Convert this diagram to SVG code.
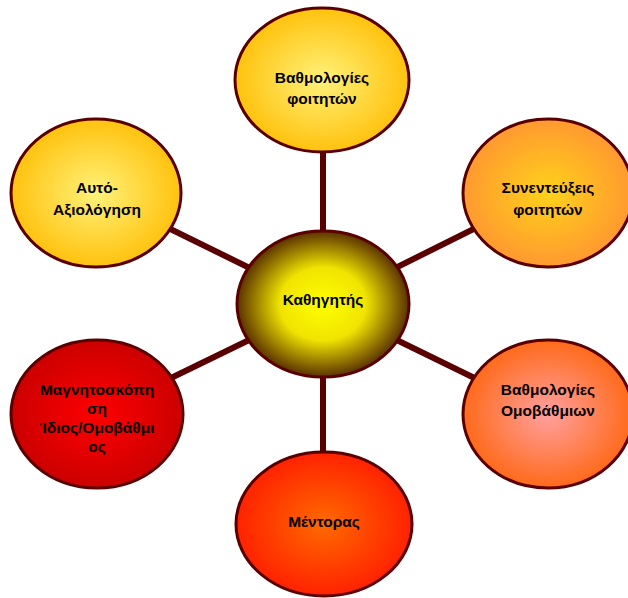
<svg xmlns="http://www.w3.org/2000/svg" width="628" height="598" viewBox="0 0 628 598">
<defs>
<radialGradient id="gYellow" cx="50%" cy="50%" r="50%"><stop offset="0" stop-color="#fff27a"/><stop offset="1" stop-color="#ffc20e"/></radialGradient>
<radialGradient id="gOrange" cx="50%" cy="50%" r="50%"><stop offset="0" stop-color="#ffd21a"/><stop offset="1" stop-color="#ff9930"/></radialGradient>
<radialGradient id="gPink" cx="50%" cy="50%" r="50%"><stop offset="0" stop-color="#ffa0a0"/><stop offset="1" stop-color="#ff6a1a"/></radialGradient>
<radialGradient id="gRedOrange" cx="50%" cy="50%" r="50%"><stop offset="0" stop-color="#ff6a00"/><stop offset="1" stop-color="#ff2200"/></radialGradient>
<radialGradient id="gRed" cx="50%" cy="50%" r="50%"><stop offset="0" stop-color="#ff0000"/><stop offset="1" stop-color="#cc0000"/></radialGradient>
<radialGradient id="gCenter" cx="50%" cy="50%" r="50%"><stop offset="0" stop-color="#ffff00"/><stop offset="0.5" stop-color="#f0e400"/><stop offset="1" stop-color="#5a3200"/></radialGradient>
</defs>
<style>
.n{stroke:#5a0000;stroke-width:3}
.t{font-family:"Liberation Sans",Arial,sans-serif;font-weight:bold;font-size:15.5px;fill:#000;text-anchor:middle}
.c{stroke:#5a0000;stroke-width:6;fill:none}
</style>
<g id="connectors">
<line class="c" x1="323" y1="304" x2="323" y2="80"/>
<line class="c" x1="323" y1="304" x2="323" y2="524"/>
<line class="c" x1="323" y1="304" x2="95" y2="192"/>
<line class="c" x1="323" y1="304" x2="548" y2="192"/>
<line class="c" x1="323" y1="304" x2="97" y2="414"/>
<line class="c" x1="323" y1="304" x2="548" y2="414"/>
</g>
<g id="node-top">
<ellipse class="n" cx="322" cy="80" rx="87" ry="72" fill="url(#gYellow)"/>
<text class="t" x="322" y="83">Βαθμολογίες</text>
<text class="t" x="322" y="104">φοιτητών</text>
</g>
<g id="node-topleft">
<ellipse class="n" cx="96" cy="193" rx="85" ry="74" fill="url(#gYellow)"/>
<text class="t" x="97" y="193">Αυτό-</text>
<text class="t" x="97" y="215">Αξιολόγηση</text>
</g>
<g id="node-topright">
<ellipse class="n" cx="548" cy="193" rx="85" ry="74" fill="url(#gOrange)"/>
<text class="t" x="548" y="193">Συνεντεύξεις</text>
<text class="t" x="548" y="215">φοιτητών</text>
</g>
<g id="node-bottomright">
<ellipse class="n" cx="548" cy="414" rx="85" ry="74" fill="url(#gPink)"/>
<text class="t" x="548" y="395">Βαθμολογίες</text>
<text class="t" x="548" y="416">Ομοβάθμιων</text>
</g>
<g id="node-bottomleft">
<ellipse class="n" cx="97" cy="414" rx="86" ry="74" fill="url(#gRed)"/>
<text class="t" x="97" y="395">Μαγνητοσκόπη</text>
<text class="t" x="97" y="414">ση</text>
<text class="t" x="97" y="433">Ίδιος/Ομοβάθμι</text>
<text class="t" x="97" y="452">ος</text>
</g>
<g id="node-bottom">
<ellipse class="n" cx="324" cy="524" rx="88" ry="72" fill="url(#gRedOrange)"/>
<text class="t" x="324" y="527">Μέντορας</text>
</g>
<g id="node-center">
<ellipse class="n" cx="323" cy="304" rx="86" ry="73" fill="url(#gCenter)"/>
<text class="t" x="323" y="305">Καθηγητής</text>
</g>
</svg>
